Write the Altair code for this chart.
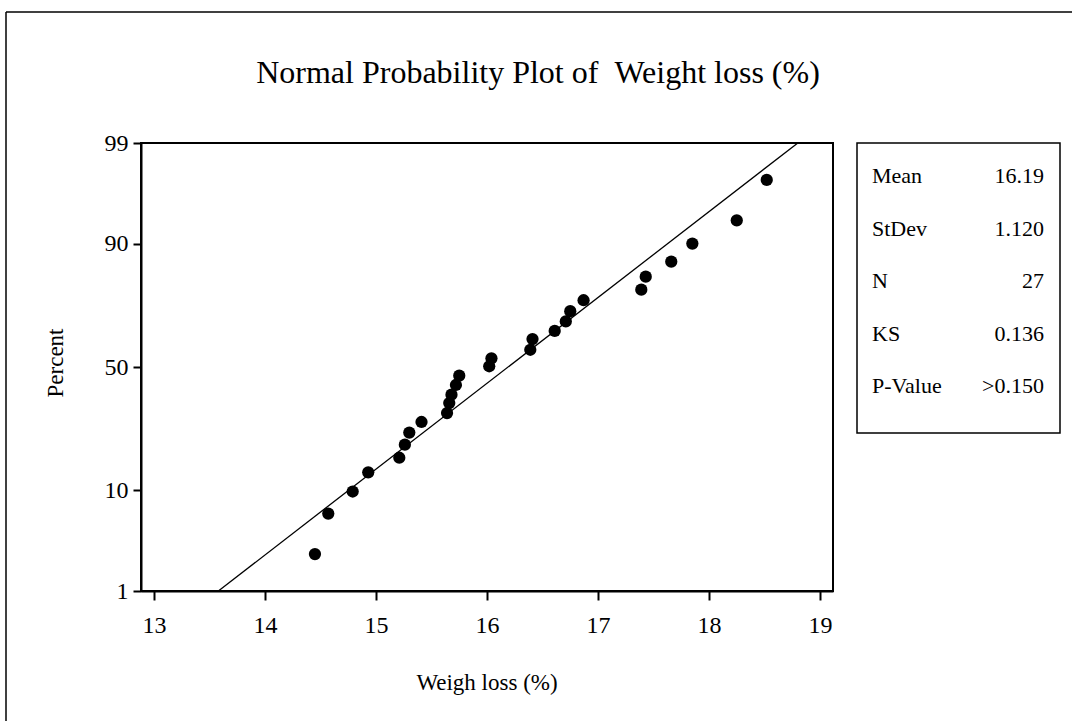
import altair as alt
import pandas as pd
from statistics import NormalDist

# Sorted sample of weight loss (%) and the plotted cumulative percent of each point
weight_loss = [14.45, 14.57, 14.79, 14.93, 15.21, 15.26, 15.30, 15.41, 15.64,
               15.66, 15.68, 15.72, 15.75, 16.02, 16.04, 16.39, 16.41, 16.61,
               16.71, 16.75, 16.87, 17.39, 17.43, 17.66, 17.85, 18.25, 18.52]
percent = [2.6, 6.4, 9.8, 13.7, 17.3, 21.0, 24.8, 28.4, 31.6, 35.4, 38.7, 42.6,
           46.4, 50.3, 53.6, 57.1, 61.4, 64.6, 68.2, 71.9, 75.6, 78.9, 82.6,
           86.3, 90.0, 93.6, 97.4]

# Fitted normal line (mean 16.19, sd 1.120) between the 1% and 99% levels
fit_x = [13.58, 18.80]
fit_pct = [1, 99]

percent_ticks = [1, 10, 50, 90, 99]
x_ticks = [13, 14, 15, 16, 17, 18, 19]

stat_names = ["Mean", "StDev", "N", "KS", "P-Value"]
stat_values = ["16.19", "1.120", "27", "0.136", ">0.150"]

FONT = "Liberation Serif"
W, H = 692, 448

nd = NormalDist()
z_ticks = [nd.inv_cdf(p / 100) for p in percent_ticks]
z_domain = [z_ticks[0], z_ticks[-1]]

points = pd.DataFrame({"x": weight_loss, "pct": percent})
fit = pd.DataFrame({"x": fit_x, "pct": fit_pct})

x_enc = alt.X(
    "x:Q",
    scale=alt.Scale(domain=[12.883, 19.117], nice=False, zero=False),
    axis=alt.Axis(values=x_ticks, title=None, format="d", tickSize=9,
                  labelPadding=13),
)
y_enc = alt.Y(
    "z:Q",
    scale=alt.Scale(domain=z_domain, nice=False, zero=False),
    axis=alt.Axis(values=z_ticks, title=None, tickSize=8, labelPadding=5,
                  labelExpr="format(cumulativeNormal(datum.value) * 100, '.0f')"),
)

fit_line = (
    alt.Chart(fit)
    .transform_calculate(z="quantileNormal(datum.pct / 100)")
    .mark_line(color="black", strokeWidth=1.3)
    .encode(x=x_enc, y=y_enc)
)

dots = (
    alt.Chart(points)
    .transform_calculate(z="quantileNormal(datum.pct / 100)")
    .mark_circle(color="black", opacity=1, size=150)
    .encode(x=x_enc, y=y_enc)
)

one = pd.DataFrame({"k": [0]})

title = alt.Chart(one).mark_text(
    font=FONT, fontSize=32, color="black", align="center", baseline="alphabetic"
).encode(x=alt.value(397), y=alt.value(-60),
         text=alt.value("Normal Probability Plot of \u00a0Weight loss (%)"))

x_title = alt.Chart(one).mark_text(
    font=FONT, fontSize=23, color="black", align="center", baseline="alphabetic"
).encode(x=alt.value(W / 2), y=alt.value(547), text=alt.value("Weigh loss (%)"))

y_title = alt.Chart(one).mark_text(
    font=FONT, fontSize=23, color="black", align="center", baseline="middle", angle=270
).encode(x=alt.value(-85), y=alt.value(220), text=alt.value("Percent"))

# Summary statistics box to the right of the plot
box = alt.Chart(one).mark_rect(fill="white", stroke="black", strokeWidth=1.5).encode(
    x=alt.value(716), x2=alt.value(919), y=alt.value(0), y2=alt.value(290)
)
stat_layers = []
for i, (name, val) in enumerate(zip(stat_names, stat_values)):
    ypos = 40 + i * 52.5
    stat_layers.append(
        alt.Chart(one).mark_text(font=FONT, fontSize=22, color="black",
                                 align="left", baseline="alphabetic")
        .encode(x=alt.value(731), y=alt.value(ypos), text=alt.value(name))
    )
    stat_layers.append(
        alt.Chart(one).mark_text(font=FONT, fontSize=22, color="black",
                                 align="right", baseline="alphabetic")
        .encode(x=alt.value(903), y=alt.value(ypos), text=alt.value(val))
    )

# Page border (top and left edges)
border_left = alt.Chart(one).mark_rule(color="black", strokeWidth=1.5).encode(
    x=alt.value(-135), y=alt.value(-131), y2=alt.value(700)
)
border_top = alt.Chart(one).mark_rule(color="black", strokeWidth=1.5).encode(
    x=alt.value(-135), x2=alt.value(1000), y=alt.value(-131)
)

chart = (
    alt.layer(fit_line, dots, title, x_title, y_title, box, *stat_layers,
              border_left, border_top)
    .properties(
        width=W, height=H,
        autosize=alt.AutoSizeParams(type="none"),
        padding={"left": 141, "top": 143, "right": 239, "bottom": 130},
        background="white",
    )
    .configure_view(stroke="black", strokeWidth=2)
    .configure_axis(
        grid=False, domainColor="black", domainWidth=2, tickColor="black",
        tickWidth=2, labelFont=FONT, labelFontSize=24, labelColor="black",
    )
)

chart.save("out.html", embed_options={"renderer": "svg", "actions": False})
